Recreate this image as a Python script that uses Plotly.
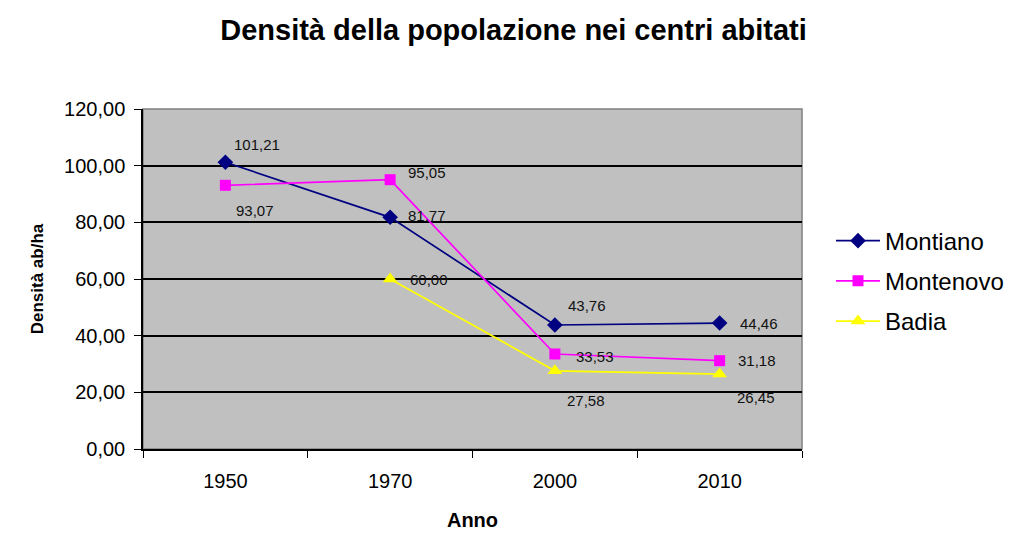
import plotly.graph_objects as go

# Anni di rilevazione e densità (ab/ha) per centro abitato
anni = ["1950", "1970", "2000", "2010"]
montiano = [101.21, 81.77, 43.76, 44.46]
montenovo = [93.07, 95.05, 33.53, 31.18]
badia = [None, 60.00, 27.58, 26.45]

y_ticks = [0, 20, 40, 60, 80, 100, 120]

# Spostamento (px) delle etichette rispetto al punto: (dx, dy verso il basso)
off_montiano = [(32, -18), (37, -2), (32, -20), (39, 0)]
off_montenovo = [(30, 25), (37, -7), (40, 2), (37, 0)]
off_badia = [None, (39, 0), (31, 30), (36, 23)]

serie = [
    ("Montiano", montiano, "#000080", "diamond", 12, off_montiano),
    ("Montenovo", montenovo, "#FF00FF", "square", 11, off_montenovo),
    ("Badia", badia, "#FFFF00", "triangle-up", 13, off_badia),
]

FONT = "Arial, Liberation Sans, sans-serif"

# posizioni delle categorie sull'asse e confini tra categorie
pos = list(range(len(anni)))
confini = [p - 0.5 for p in pos] + [pos[-1] + 0.5]

fig = go.Figure()
annotations = []
for i, (nome, valori, colore, simbolo, dim, offs) in enumerate(serie):
    fig.add_trace(go.Scatter(
        x=pos, y=valori, name=nome, mode="lines+markers",
        line=dict(color=colore, width=1.7),
        marker=dict(symbol=simbolo, size=dim, color=colore),
        legendgroup=f"g{i}",
    ))
    for p, v, off in zip(pos, valori, offs):
        if v is None:
            continue
        annotations.append(dict(
            x=p, y=v, xref="x", yref="y",
            text=f"{v:.2f}".replace(".", ","),
            showarrow=False, xshift=off[0], yshift=-off[1],
            font=dict(family=FONT, size=15, color="#111111"),
        ))

fig.update_layout(
    width=1027, height=535,
    margin=dict(l=143, r=225, t=109, b=86),
    paper_bgcolor="white",
    plot_bgcolor="#C0C0C0",
    separators=",.",
    font=dict(family=FONT, color="black"),
    title=dict(
        text="<b>Densità della popolazione nei centri abitati</b>",
        x=0.5, xref="container", xanchor="center",
        y=1 - 30 / 535, yref="container", yanchor="middle",
        font=dict(family=FONT, size=29, color="black"),
    ),
    xaxis=dict(
        range=[confini[0], confini[-1]],
        tickvals=pos, ticktext=anni, ticks="",
        minor=dict(tickvals=confini, ticks="outside", ticklen=7,
                   tickwidth=1.2, tickcolor="black", showgrid=False),
        showline=True, linecolor="black", linewidth=1.5,
        showgrid=False, zeroline=False, automargin=False,
        tickfont=dict(family=FONT, size=20, color="black"),
        ticklabelstandoff=13,
        title=dict(text="<b>Anno</b>", standoff=22,
                   font=dict(family=FONT, size=20, color="black")),
    ),
    yaxis=dict(
        range=[0, 120], tickvals=y_ticks, tickformat=".2f",
        ticks="outside", ticklen=7, tickwidth=1.2, tickcolor="black",
        showline=True, linecolor="black", linewidth=1.5,
        showgrid=True, gridcolor="black", gridwidth=1.5,
        zeroline=False, automargin=False,
        tickfont=dict(family=FONT, size=20, color="black"),
        ticklabelstandoff=5,
        title=dict(text="<b>Densità ab/ha</b>", standoff=16,
                   font=dict(family=FONT, size=17, color="black")),
    ),
    legend=dict(
        x=1.044, xanchor="left", y=0.494, yanchor="middle",
        font=dict(family=FONT, size=24, color="black"),
        bgcolor="rgba(0,0,0,0)", borderwidth=0,
        tracegroupgap=6, itemwidth=44,
    ),
    annotations=annotations,
    shapes=[dict(
        type="rect", xref="x domain", yref="y domain",
        x0=0, x1=1, y0=0, y1=1, layer="below",
        line=dict(color="#808080", width=1.5),
    )],
)

fig.write_html("out.html")
